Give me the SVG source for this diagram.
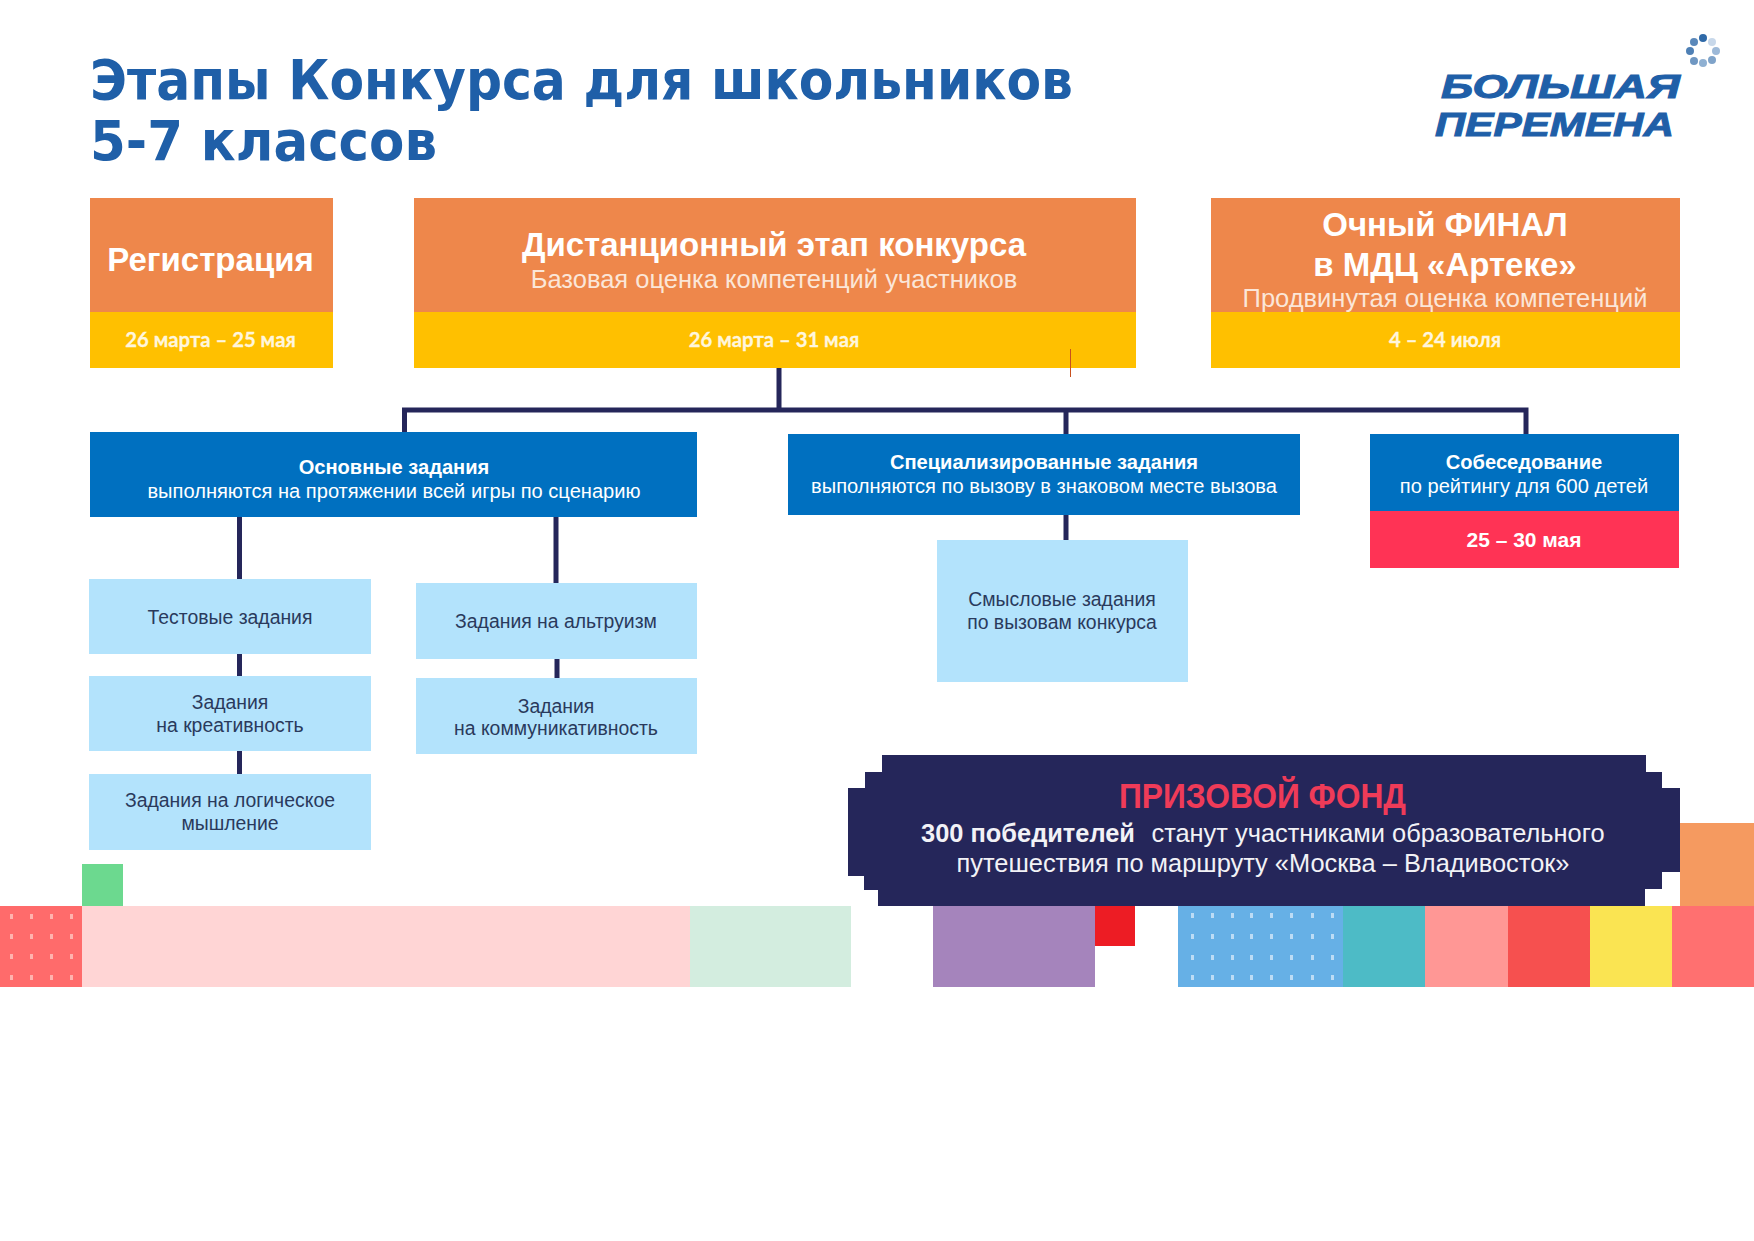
<svg xmlns="http://www.w3.org/2000/svg" width="1754" height="1241" viewBox="0 0 1754 1241">
<style>
text{font-family:"Liberation Sans",Arial,sans-serif;text-anchor:middle}
.w{fill:#fff}.b{font-weight:700}
.h1{font-size:33px;font-weight:700;fill:#fff}
.h2{font-size:25.5px;fill:#fbe6d8}
.d{font-family:Lato,"Liberation Sans",sans-serif;font-weight:700;font-size:20.3px;fill:#fff6dc;stroke:#fff6dc;stroke-width:.3px}
.t{font-size:20.1px;fill:#fff}
.tb{font-size:20.1px;fill:#fff;font-weight:700}
.l{font-size:19.4px;fill:#2a3a5c}
.p{font-size:25.4px;fill:#f2f2f6}
.title{font-family:"DejaVu Sans",sans-serif;font-weight:700;font-size:56px;fill:#1f5fa8;text-anchor:start}
.logo{font-style:italic;font-weight:700;font-size:33px;fill:#1f5fa8;stroke:#1f5fa8;stroke-width:1px;text-anchor:start}
.c{stroke:#25265a;stroke-width:5;fill:none}
.or{fill:#ee874b}.ye{fill:#ffc000}.bl{fill:#0070c0}.lt{fill:#b3e3fc}
.dr{fill:#ffb3ae}.db{fill:#bcdcf5}
</style>
<defs>
<g id="rd"><rect x="10" y="0" width="3" height="5"/><rect x="30" y="0" width="3" height="5"/><rect x="50" y="0" width="3" height="5"/><rect x="70" y="0" width="3" height="5"/></g>
<g id="bd"><rect x="1191" y="0" width="3" height="5"/><rect x="1211" y="0" width="3" height="5"/><rect x="1231" y="0" width="3" height="5"/><rect x="1250" y="0" width="3" height="5"/><rect x="1270" y="0" width="3" height="5"/><rect x="1290" y="0" width="3" height="5"/><rect x="1311" y="0" width="3" height="5"/><rect x="1331" y="0" width="3" height="5"/></g>
</defs>
<rect width="1754" height="1241" fill="#fff"/>

<g id="title">
<text class="title" x="90" y="99" textLength="983" lengthAdjust="spacingAndGlyphs">Этапы Конкурса для школьников</text>
<text class="title" x="90" y="160" textLength="347" lengthAdjust="spacingAndGlyphs">5-7 классов</text>
</g>

<g id="logo">
<text class="logo" x="1441" y="98" textLength="239" lengthAdjust="spacingAndGlyphs">БОЛЬШАЯ</text>
<text class="logo" x="1435" y="136" textLength="239" lengthAdjust="spacingAndGlyphs">ПЕРЕМЕНА</text>
<circle cx="1703" cy="38" r="4" fill="#2f6aa8"/><circle cx="1712" cy="42" r="4" fill="#c8d8ea"/><circle cx="1716" cy="51" r="4" fill="#9db9d8"/><circle cx="1712" cy="60" r="4" fill="#7fa3c9"/><circle cx="1703" cy="63" r="4" fill="#8fb0d2"/><circle cx="1694" cy="61" r="4" fill="#6f97c2"/><circle cx="1690" cy="51" r="4" fill="#4f80b5"/><circle cx="1694" cy="42" r="4" fill="#5a88ba"/>
</g>

<g id="decor">
<rect x="0" y="906" width="82" height="81" fill="#ff6b6b"/>
<g class="dr"><use href="#rd" y="914"/><use href="#rd" y="934"/><use href="#rd" y="954"/><use href="#rd" y="975"/></g>
<rect x="82" y="864" width="41" height="42" fill="#6cd98f"/>
<rect x="82" y="906" width="608" height="81" fill="#ffd5d5"/>
<rect x="690" y="906" width="161" height="81" fill="#d3eddf"/>
<rect x="933" y="906" width="162" height="81" fill="#a584bc"/>
<rect x="1095" y="906" width="40" height="40" fill="#ed1c24"/>
<rect x="1178" y="906" width="165" height="81" fill="#66b0e6"/>
<g class="db"><use href="#bd" y="913"/><use href="#bd" y="934"/><use href="#bd" y="955"/><use href="#bd" y="975"/></g>
<rect x="1343" y="906" width="82" height="81" fill="#4dbbc6"/>
<rect x="1425" y="906" width="83" height="81" fill="#ff9795"/>
<rect x="1508" y="906" width="82" height="81" fill="#f6504f"/>
<rect x="1590" y="906" width="82" height="81" fill="#fae452"/>
<rect x="1672" y="906" width="82" height="81" fill="#ff7070"/>
<rect x="1680" y="823" width="74" height="83" fill="#f59a60"/>
</g>

<g id="connectors">
<path class="c" d="M779 368V410M404.500 432V410H1526M1526 407.500V434M1066 410V434"/>
<path class="c" d="M239.500 517V579M239.500 654V676M239.500 751V774M556 517V583M557 659V678M1066 515V540"/>
</g>

<g id="n-reg">
<rect class="or" x="90" y="198" width="243" height="114"/><rect class="ye" x="90" y="312" width="243" height="56"/>
<text class="h1" x="210.500" y="271">Регистрация</text>
<text class="d" x="210.500" y="347">26 марта – 25 мая</text>
</g>
<g id="n-dist">
<rect class="or" x="414" y="198" width="722" height="114"/><rect class="ye" x="414" y="312" width="722" height="56"/>
<text class="h1" x="774" y="256">Дистанционный этап конкурса</text>
<text class="h2" x="774" y="288">Базовая оценка компетенций участников</text>
<text class="d" x="774" y="347">26 марта – 31 мая</text>
<rect x="1070" y="349" width="1" height="28" fill="#c8501e"/>
</g>
<g id="n-final">
<rect class="or" x="1211" y="198" width="469" height="114"/><rect class="ye" x="1211" y="312" width="469" height="56"/>
<text class="h1" x="1445" y="236">Очный ФИНАЛ</text>
<text class="h1" x="1445" y="276">в МДЦ «Артеке»</text>
<text class="h2" x="1445" y="307">Продвинутая оценка компетенций</text>
<text class="d" x="1445" y="347">4 – 24 июля</text>
</g>
<g id="n-main">
<rect class="bl" x="90" y="432" width="607" height="85"/>
<text class="tb" x="394" y="474">Основные задания</text>
<text class="t" x="394" y="498">выполняются на протяжении всей игры по сценарию</text>
</g>
<g id="n-spec">
<rect class="bl" x="788" y="434" width="512" height="81"/>
<text class="tb" x="1044" y="469">Специализированные задания</text>
<text class="t" x="1044" y="493">выполняются по вызову в знаковом месте вызова</text>
</g>
<g id="n-int">
<rect class="bl" x="1370" y="434" width="309" height="77"/><rect x="1370" y="511" width="309" height="57" fill="#ff3355"/>
<text class="tb" x="1524" y="469">Собеседование</text>
<text class="t" x="1524" y="493">по рейтингу для 600 детей</text>
<text class="tb" x="1524" y="547" style="font-size:21px">25 – 30 мая</text>
</g>
<g id="n-test"><rect class="lt" x="89" y="579" width="282" height="75"/><text class="l" x="230" y="624">Тестовые задания</text></g>
<g id="n-creat"><rect class="lt" x="89" y="676" width="282" height="75"/><text class="l" x="230" y="709">Задания</text><text class="l" x="230" y="732">на креативность</text></g>
<g id="n-logic"><rect class="lt" x="89" y="774" width="282" height="76"/><text class="l" x="230" y="807">Задания на логическое</text><text class="l" x="230" y="830">мышление</text></g>
<g id="n-alt"><rect class="lt" x="416" y="583" width="281" height="76"/><text class="l" x="556" y="628">Задания на альтруизм</text></g>
<g id="n-comm"><rect class="lt" x="416" y="678" width="281" height="76"/><text class="l" x="556" y="713">Задания</text><text class="l" x="556" y="735">на коммуникативность</text></g>
<g id="n-sense"><rect class="lt" x="937" y="540" width="251" height="142"/><text class="l" x="1062" y="606">Смысловые задания</text><text class="l" x="1062" y="629">по вызовам конкурса</text></g>

<g id="n-prize">
<path fill="#25265a" d="M882 755H1646V772H1662V788H1680V872H1662V889H1645V906H878V890H864V876H848V788H865V772H882Z"/>
<text x="1262.500" y="808" font-size="35" font-weight="700" fill="#ef3b58" textLength="287" lengthAdjust="spacingAndGlyphs">ПРИЗОВОЙ ФОНД</text>
<text class="p b" x="1028" y="842">300 победителей</text>
<text class="p" x="1378" y="842">станут участниками образовательного</text>
<text class="p" x="1263" y="872">путешествия по маршруту «Москва – Владивосток»</text>
</g>
</svg>
